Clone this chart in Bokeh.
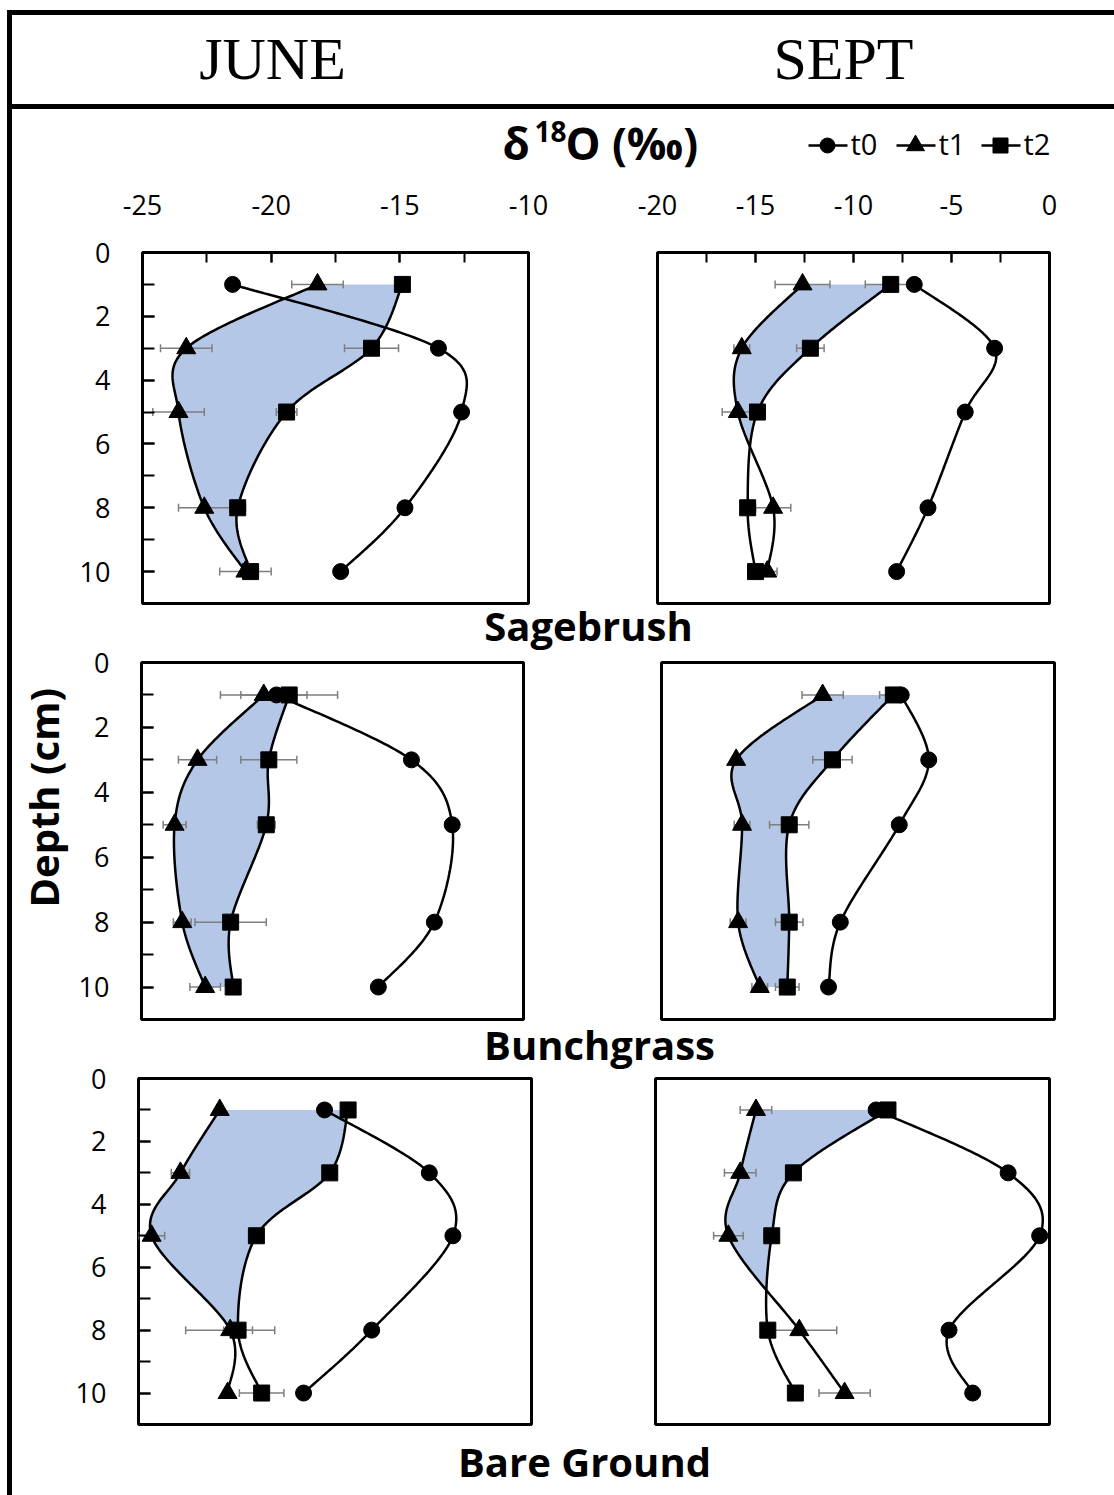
import numpy as np
from bokeh.plotting import figure
from bokeh.models import Range1d, SingleIntervalTicker, Div, Spacer
from bokeh.layouts import row, column
from bokeh.core.properties import value
from bokeh.embed import file_html
from bokeh.resources import INLINE

# ---------------- data ----------------
depth = [1, 3, 5, 8, 10]
series_names = ["t0", "t1", "t2"]
month_labels = ["JUNE", "SEPT"]
site_labels = ["Sagebrush", "Bunchgrass", "Bare Ground"]
june_ticks = [-25, -20, -15, -10]
sept_ticks = [-20, -15, -10, -5, 0]
depth_ticks = [0, 2, 4, 6, 8, 10]

# Sagebrush
sage_june_t0 = [-21.5, -13.5, -12.6, -14.8, -17.3]
sage_june_t1 = [-18.2, -23.3, -23.6, -22.6, -21.0]
sage_june_t2 = [-14.9, -16.1, -19.4, -21.3, -20.8]
sage_june_e1 = [1.0, 1.0, 1.0, 1.0, 1.0]
sage_june_e2 = [0.0, 1.05, 0.4, 0.3, 0.3]

sage_sept_t0 = [-6.9, -2.8, -4.3, -6.2, -7.8]
sage_sept_t1 = [-12.6, -15.7, -15.9, -14.1, -14.4]
sage_sept_t2 = [-8.1, -12.2, -14.9, -15.4, -15.0]
sage_sept_e1 = [1.4, 0.4, 0.8, 0.9, 0.5]
sage_sept_e2 = [1.3, 0.7, 0.0, 0.0, 0.0]

# Bunchgrass
bunch_june_t0 = [-19.7, -14.4, -12.8, -13.5, -15.7]
bunch_june_t1 = [-20.2, -22.8, -23.7, -23.4, -22.5]
bunch_june_t2 = [-19.2, -20.0, -20.1, -21.5, -21.4]
bunch_june_e1 = [1.7, 0.75, 0.45, 0.35, 0.6]
bunch_june_e2 = [1.9, 1.1, 0.35, 1.4, 0.0]

bunch_sept_t0 = [-7.8, -6.4, -7.9, -10.9, -11.5]
bunch_sept_t1 = [-11.8, -16.2, -15.9, -16.1, -15.0]
bunch_sept_t2 = [-8.2, -11.3, -13.5, -13.5, -13.6]
bunch_sept_e1 = [1.05, 0.0, 0.4, 0.4, 0.4]
bunch_sept_e2 = [0.7, 1.0, 1.0, 0.7, 0.6]

# Bare ground
bare_june_t0 = [-17.9, -13.9, -13.0, -16.1, -18.7]
bare_june_t1 = [-21.9, -23.4, -24.5, -21.5, -21.6]
bare_june_t2 = [-17.0, -17.7, -20.5, -21.2, -20.3]
bare_june_e1 = [0.0, 0.35, 0.5, 1.7, 0.0]
bare_june_e2 = [0.0, 0.0, 0.0, 0.55, 0.85]

bare_sept_t0 = [-8.8, -2.1, -0.5, -5.1, -3.9]
bare_sept_t1 = [-14.9, -15.7, -16.3, -12.7, -10.4]
bare_sept_t2 = [-8.2, -13.0, -14.1, -14.3, -12.9]
bare_sept_e1 = [0.8, 0.8, 0.75, 1.9, 1.3]
bare_sept_e2 = [0.0, 0.0, 0.0, 0.0, 0.0]

# depth down to which the t1-t2 band is shaded
fill_end = {"sage_june": 10, "sage_sept": 10, "bunch_june": 10,
            "bunch_sept": 10, "bare_june": 8, "bare_sept": 10}

FILL = "#b4c7e7"
SANS = "Open Sans"
SERIF = "Liberation Serif"
BAR = "#7f7f7f"


def smooth(xs, ys, n=40):
    """Excel-style smoothed line (Catmull-Rom as cubic Bezier)."""
    P = np.column_stack([xs, ys]).astype(float)
    pts = np.vstack([P[0], P, P[-1]])
    out = []
    t = np.linspace(0, 1, n)[:, None]
    for i in range(1, len(pts) - 2):
        p0, p1, p2, p3 = pts[i - 1], pts[i], pts[i + 1], pts[i + 2]
        c1 = p1 + (p2 - p0) / 6.0
        c2 = p2 - (p3 - p1) / 6.0
        seg = (1 - t) ** 3 * p1 + 3 * (1 - t) ** 2 * t * c1 + 3 * (1 - t) * t ** 2 * c2 + t ** 3 * p2
        out.append(seg if i == 1 else seg[1:])
    c = np.vstack(out)
    return c[:, 0], c[:, 1]


def panel(width, height, bl, br, bt, bb, xr, xticks, top_axis, left_axis,
          t0, t1, t2, e1, e2, fend):
    p = figure(width=width, height=height, x_range=Range1d(*xr), y_range=Range1d(11, 0),
               x_axis_location="above" if top_axis else None,
               y_axis_location="left" if left_axis else None,
               output_backend="svg", toolbar_location=None,
               min_border_left=bl, min_border_right=br, min_border_top=bt, min_border_bottom=bb)
    p.xgrid.visible = False
    p.ygrid.visible = False
    p.outline_line_color = "black"
    p.outline_line_width = 3
    p.background_fill_color = "white"
    p.border_fill_color = None
    if top_axis:
        ax = p.xaxis[0]
        ax.ticker = SingleIntervalTicker(interval=5, num_minor_ticks=2)
        ax.major_label_overrides = {t: str(t) for t in xticks}
        ax.major_tick_in = 10
        ax.major_tick_out = 0
        ax.minor_tick_in = 10
        ax.minor_tick_out = 0
        ax.major_tick_line_width = 2
        ax.minor_tick_line_width = 2
        ax.axis_line_color = None
        ax.major_label_text_font = SANS
        ax.major_label_text_font_size = "27px"
        ax.major_label_text_color = "black"
        ax.major_label_standoff = 38
    if left_axis:
        ay = p.yaxis[0]
        ay.ticker = SingleIntervalTicker(interval=2, num_minor_ticks=2)
        ay.major_label_overrides = {t: str(t) for t in depth_ticks}
        ay.major_tick_in = 12
        ay.major_tick_out = 0
        ay.minor_tick_in = 12
        ay.minor_tick_out = 0
        ay.major_tick_line_width = 2
        ay.minor_tick_line_width = 2
        ay.axis_line_color = None
        ay.major_label_text_font = SANS
        ay.major_label_text_font_size = "27px"
        ay.major_label_text_color = "black"
        ay.major_label_standoff = 32

    # shaded band between t1 and t2
    x1c, y1c = smooth(t1, depth)
    x2c, y2c = smooth(t2, depth)
    yg = np.linspace(depth[0], fend, 400)
    bx1 = np.interp(yg, y1c, x1c)
    bx2 = np.interp(yg, y2c, x2c)
    p.harea(y=yg, x1=bx1, x2=np.maximum(bx1, bx2), fill_color=FILL, fill_alpha=1.0)

    # error bars (t1, t2)
    for xs, es in ((t1, e1), (t2, e2)):
        xs = np.array(xs, float)
        es = np.array(es, float)
        m = es > 0
        if m.any():
            yy = np.array(depth, float)[m]
            lo = xs[m] - es[m]
            hi = xs[m] + es[m]
            p.segment(x0=lo, y0=yy, x1=hi, y1=yy, line_color=BAR, line_width=1.5)
            p.scatter(x=np.concatenate([lo, hi]), y=np.concatenate([yy, yy]), marker="dash",
                      angle=np.pi / 2, size=8, line_color=BAR, line_width=1.5)

    # smoothed lines + markers
    for xs in (t0, t1, t2):
        cx, cy = smooth(xs, depth)
        p.line(cx, cy, line_color="black", line_width=2.5)
    for xs, mk, sz in ((t0, "circle", 16), (t1, "triangle", 19), (t2, "square", 16)):
        p.scatter(x=xs, y=depth, marker=mk, size=sz, fill_color="black", line_color="black")
    return p


def strip(width, height, transparent=False, margin=0):
    s = figure(width=width, height=height, x_range=Range1d(0, width), y_range=Range1d(height, 0),
               x_axis_location=None, y_axis_location=None, output_backend="svg",
               toolbar_location=None, min_border=0, margin=margin)
    s.xgrid.visible = False
    s.ygrid.visible = False
    s.outline_line_color = None
    if transparent:
        s.background_fill_color = None
        s.border_fill_color = None
    else:
        s.background_fill_color = "white"
        s.border_fill_color = "white"
    return s


def label(s, x, y, txt, size, font=SANS, bold=False, align="center", angle=0.0):
    s.text(x=[x], y=[y], text=[txt], text_font=value(font), text_font_size=size,
           text_font_style="bold" if bold else "normal", text_align=align,
           text_baseline="middle", text_color="black", angle=angle)


CW = 1102      # content width (x = 12 .. 1114)
LW = 578       # left column figure width
RW = CW - LW   # right column figure width
DW = 62        # strip holding the rotated depth label (row 2)
UP = 12        # rows 2 and 3 reach this far up into the label strip above

# header  (y 15..104)
hdr = strip(CW, 89)
label(hdr, 260, 43, month_labels[0], "60px", font=SERIF)
label(hdr, 831, 43, month_labels[1], "60px", font=SERIF)

# title + legend strip  (y 109..180)
ttl = strip(CW, 71)
label(ttl, 490, 33, "δ", "44px", bold=True, align="left")
label(ttl, 522, 22, "18", "28px", bold=True, align="left")
label(ttl, 553, 33, "O (‰)", "44px", bold=True, align="left")
leg_x = [815, 903, 988]
leg_mk = ["circle", "triangle", "square"]
leg_sz = [15, 18, 15]
for cx, mk, sz, nm in zip(leg_x, leg_mk, leg_sz, series_names):
    ttl.segment(x0=[cx - 19], y0=[36], x1=[cx + 20], y1=[36], line_color="black", line_width=2.5)
    ttl.scatter(x=[cx], y=[36], marker=mk, size=sz, fill_color="black", line_color="black")
    label(ttl, cx + 23, 34, nm, "29px", align="left")

# row 1  (y 180..605)
r1l = panel(LW, 425, 130, 62, 72, 2, (-25, -10), june_ticks, True, True,
            sage_june_t0, sage_june_t1, sage_june_t2, sage_june_e1, sage_june_e2, fill_end["sage_june"])
r1r = panel(RW, 425, 67, 65, 70, 2, (-20, 0), sept_ticks, True, False,
            sage_sept_t0, sage_sept_t1, sage_sept_t2, sage_sept_e1, sage_sept_e2, fill_end["sage_sept"])

# site label 1  (slot y 605..653, drawn 597..661, transparent)
s1 = strip(CW, 64, transparent=True, margin=(-8, 0, -8, 0))
label(s1, 576, 28, site_labels[0], "40px", bold=True)

# row 2  (slot y 653..1021, drawn from 641)
dstrip = strip(DW, 368 + UP, transparent=True)
label(dstrip, 31, 132 + UP, "Depth (cm)", "40px", bold=True, angle=np.pi / 2)
r2l = panel(LW - DW, 368 + UP, 129 - DW, 67, 9 + UP, 2, (-25, -10), june_ticks, False, True,
            bunch_june_t0, bunch_june_t1, bunch_june_t2, bunch_june_e1, bunch_june_e2, fill_end["bunch_june"])
r2r = panel(RW, 368 + UP, 71, 60, 8 + UP, 1, (-20, 0), sept_ticks, False, False,
            bunch_sept_t0, bunch_sept_t1, bunch_sept_t2, bunch_sept_e1, bunch_sept_e2, fill_end["bunch_sept"])
row2 = row(dstrip, r2l, r2r, spacing=0, margin=(-UP, 0, 0, 0))

# site label 2  (slot y 1021..1068, drawn 1013..1076, transparent)
s2 = strip(CW, 63, transparent=True, margin=(-8, 0, -8, 0))
label(s2, 587, 31, site_labels[1], "40px", bold=True)

# row 3  (slot y 1068..1440, drawn from 1056)
r3l = panel(LW, 372 + UP, 126, 59, 7 + UP, 16, (-25, -10), june_ticks, False, True,
            bare_june_t0, bare_june_t1, bare_june_t2, bare_june_e1, bare_june_e2, fill_end["bare_june"])
r3r = panel(RW, 372 + UP, 65, 65, 10 + UP, 11, (-20, 0), sept_ticks, False, False,
            bare_sept_t0, bare_sept_t1, bare_sept_t2, bare_sept_e1, bare_sept_e2, fill_end["bare_sept"])
row3 = row(r3l, r3r, spacing=0, margin=(-UP, 0, 0, 0))

# site label 3  (slot y 1440..1495, drawn from 1430)
s3 = strip(CW, 65, transparent=True, margin=(-10, 0, 0, 0))
label(s3, 572, 31, site_labels[2], "40px", bold=True)


def bar(w, h):
    return Div(text="", width=w, height=h, margin=0, styles={"background-color": "black"})


sep = bar(CW, 5)
content = column(hdr, sep, ttl, row(r1l, r1r, spacing=0), s1, row2, s2, row3, s3, spacing=0)
root = column(
    Spacer(width=1114, height=10, margin=0),
    row(Spacer(width=7, height=5, margin=0), bar(1107, 5), spacing=0),
    row(Spacer(width=7, height=1480, margin=0), bar(5, 1480), content, spacing=0),
    spacing=0,
)

open("out.html", "w").write(file_html(root, INLINE))
